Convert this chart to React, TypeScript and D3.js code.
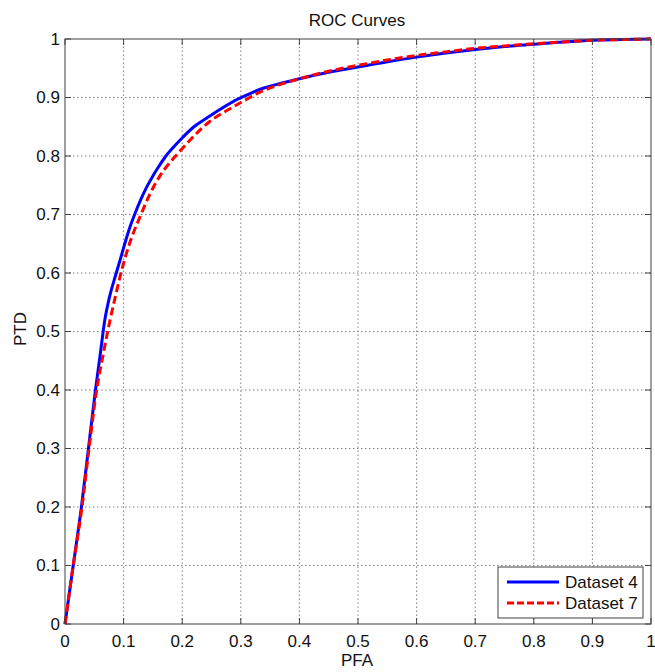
import React from 'react';
import * as d3 from 'd3';

const width = 655;
const height = 672;
const margin = { top: 39, right: 4, bottom: 48, left: 65 };

// tick values shared by both axes
const ticks = [0, 0.1, 0.2, 0.3, 0.4, 0.5, 0.6, 0.7, 0.8, 0.9, 1];

// Dataset 4 (blue, solid)
const pfa4 = [0, 0.014, 0.028, 0.04, 0.052, 0.06, 0.068, 0.075, 0.086, 0.094, 0.102, 0.111, 0.12, 0.13, 0.14, 0.15, 0.16, 0.17, 0.185, 0.202, 0.22, 0.242, 0.265, 0.287, 0.31, 0.33, 0.36, 0.4, 0.45, 0.5, 0.55, 0.6, 0.65, 0.7, 0.75, 0.8, 0.85, 0.9, 0.95, 1];
const ptd4 = [0, 0.1, 0.2, 0.3, 0.4, 0.46, 0.52, 0.555, 0.595, 0.622, 0.65, 0.679, 0.703, 0.727, 0.748, 0.766, 0.782, 0.797, 0.815, 0.833, 0.85, 0.865, 0.88, 0.893, 0.904, 0.913, 0.922, 0.932, 0.943, 0.952, 0.961, 0.969, 0.976, 0.982, 0.987, 0.991, 0.995, 0.998, 0.999, 1];

// Dataset 7 (red, dashed)
const pfa7 = [0, 0.014, 0.029, 0.041, 0.054, 0.065, 0.077, 0.086, 0.094, 0.11, 0.128, 0.145, 0.162, 0.18, 0.196, 0.22, 0.247, 0.27, 0.287, 0.31, 0.33, 0.36, 0.4, 0.45, 0.5, 0.55, 0.6, 0.65, 0.7, 0.75, 0.8, 0.85, 0.9, 0.95, 1];
const ptd7 = [0, 0.1, 0.2, 0.3, 0.4, 0.46, 0.52, 0.56, 0.594, 0.65, 0.696, 0.735, 0.766, 0.79, 0.808, 0.834, 0.859, 0.874, 0.884, 0.897, 0.908, 0.92, 0.932, 0.945, 0.955, 0.964, 0.972, 0.978, 0.984, 0.988, 0.992, 0.995, 0.998, 0.999, 1];

const series = [
  { name: 'Dataset 4', xs: pfa4, ys: ptd4, color: '#0000ff', dash: undefined },
  { name: 'Dataset 7', xs: pfa7, ys: ptd7, color: '#ff0000', dash: '8,4' },
];

const font = 'Arial, "Liberation Sans", sans-serif';

export default function App() {
  const x = d3.scaleLinear().domain([0, 1]).range([margin.left, width - margin.right]);
  const y = d3.scaleLinear().domain([0, 1]).range([height - margin.bottom, margin.top]);
  const x0 = x(0), x1 = x(1), y0 = y(0), y1 = y(1);

  const line = d3.line<[number, number]>()
    .x(d => x(d[0]))
    .y(d => y(d[1]))
    .curve(d3.curveMonotoneX);

  const axisColor = '#404040';
  const tickLen = 6;

  return (
    <svg width={width} height={height} style={{ position: 'absolute', left: 0, top: 0, background: '#fff' }}>
      {/* grid */}
      {ticks.slice(1, -1).map(t => (
        <g key={'g' + t}>
          <line x1={x(t)} x2={x(t)} y1={y0} y2={y1} stroke="#808080" strokeWidth={1} strokeDasharray="1.5,2.5" />
          <line x1={x0} x2={x1} y1={y(t)} y2={y(t)} stroke="#808080" strokeWidth={1} strokeDasharray="1.5,2.5" />
        </g>
      ))}

      {/* curves */}
      {series.map(s => (
        <path key={s.name}
          d={line(s.xs.map((v, i) => [v, s.ys[i]] as [number, number])) || ''}
          fill="none" stroke={s.color} strokeWidth={3} strokeDasharray={s.dash} />
      ))}

      {/* box + ticks */}
      <rect x={x0} y={y1} width={x1 - x0} height={y0 - y1} fill="none" stroke={axisColor} strokeWidth={1} />
      {ticks.map(t => (
        <g key={'t' + t} stroke={axisColor} strokeWidth={1}>
          <line x1={x(t)} x2={x(t)} y1={y0} y2={y0 - tickLen} />
          <line x1={x(t)} x2={x(t)} y1={y1} y2={y1 + tickLen} />
          <line x1={x0} x2={x0 + tickLen} y1={y(t)} y2={y(t)} />
          <line x1={x1} x2={x1 - tickLen} y1={y(t)} y2={y(t)} />
        </g>
      ))}

      {/* tick labels */}
      <g fontFamily={font} fontSize={17} fill="#111">
        {ticks.map(t => (
          <text key={'xl' + t} x={x(t)} y={647} textAnchor="middle">{d3.format('~g')(t)}</text>
        ))}
        {ticks.map(t => (
          <text key={'yl' + t} x={60} y={y(t)} dy="0.35em" textAnchor="end">{d3.format('~g')(t)}</text>
        ))}
      </g>

      {/* titles */}
      <text x={357} y={26} textAnchor="middle" fontFamily={font} fontSize={17} fill="#111">ROC Curves</text>
      <text x={357} y={666} textAnchor="middle" fontFamily={font} fontSize={17} fill="#111">PFA</text>
      <text transform="translate(26,329) rotate(-90)" textAnchor="middle" fontFamily={font} fontSize={17} fill="#111">PTD</text>

      {/* legend */}
      <g>
        <rect x={498} y={567} width={145} height={51} fill="#fff" stroke={axisColor} strokeWidth={1} />
        {series.map((s, i) => (
          <g key={'lg' + s.name} transform={`translate(0,${582 + i * 21})`}>
            <line x1={507} x2={559} y1={0} y2={0} stroke={s.color} strokeWidth={3} strokeDasharray={s.dash ? '7,3' : undefined} />
            <text x={565} y={0} dy="0.35em" fontFamily={font} fontSize={17} fill="#111">{s.name}</text>
          </g>
        ))}
      </g>
    </svg>
  );
}
